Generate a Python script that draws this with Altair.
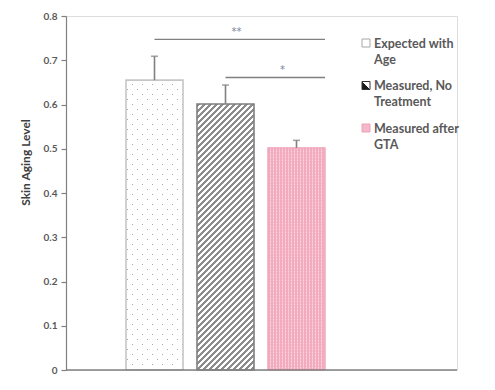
import altair as alt
import pandas as pd

# ---- data ----
categories = ["Expected with Age", "Measured, No Treatment", "Measured after GTA"]
values = [0.655, 0.601, 0.502]
errors = [0.054, 0.043, 0.017]
legend_labels = ["Expected with\nAge", "Measured, No\nTreatment", "Measured after\nGTA"]
sig_start = ["Expected with Age", "Measured, No Treatment"]
sig_end = ["Measured after GTA", "Measured after GTA"]
sig_y = [0.747, 0.661]
sig_text = ["**", "*"]
sig_text_y = [0.771, 0.685]
y_ticks = [0, 0.1, 0.2, 0.3, 0.4, 0.5, 0.6, 0.7, 0.8]

# ---- layout ----
W, H = 391, 354
YMAX = 0.8
BAR_W = 57
FONT = "Lato"
GREY = "#808080"
TEXT = "#595959"

df = pd.DataFrame({"cat": categories, "value": values, "err": errors})
df["upper"] = df["value"] + df["err"]
sig_df = pd.DataFrame({"start": sig_start, "end": sig_end, "y": sig_y,
                       "label": sig_text, "ty": sig_text_y})
leg_df = pd.DataFrame({"label": legend_labels, "cat": categories})


def stripe_stops(length, period, first_len, c1, c2):
    stops = []
    pos = 0.0
    while pos < length:
        for p, c in [(pos, c1), (pos + first_len, c1), (pos + first_len, c2), (pos + period, c2)]:
            o = min(max(p / length, 0.0), 1.0)
            stops.append(alt.GradientStop(offset=o, color=c))
        pos += period
    return stops


def diag_gradient(w, h, period, on, c_on, c_off):
    k = (w + h) / (w * w + h * h)
    return alt.LinearGradient(gradient="linear", x1=0, y1=0, x2=w * k, y2=h * k,
                              stops=stripe_stops(w + h, period, on, c_on, c_off))


def axis_gradient(length, period, on, c1, c2, vertical):
    if vertical:
        return alt.LinearGradient(gradient="linear", x1=0, y1=0, x2=0, y2=1,
                                  stops=stripe_stops(length, period, on, c1, c2))
    return alt.LinearGradient(gradient="linear", x1=0, y1=0, x2=1, y2=0,
                              stops=stripe_stops(length, period, on, c1, c2))


hpx = [v * H / YMAX for v in values]

# band scale positioned like the reference
step = 71.0
pad_inner = (step - BAR_W) / step
band_start = 60
band_end = band_start + step * (len(categories) - pad_inner)
xscale = alt.Scale(domain=categories, paddingInner=pad_inner, paddingOuter=0,
                   range=[band_start, band_end])
yscale = alt.Scale(domain=[0, YMAX], nice=False, zero=True)

xenc = alt.X("cat:N", scale=xscale, sort=categories, axis=None)
yenc = alt.Y("value:Q", scale=yscale,
             axis=alt.Axis(values=y_ticks, grid=False, tickSize=5, tickColor=GREY,
                           domainColor=GREY, domainWidth=1.2, tickWidth=1.2,
                           labelFont=FONT, labelFontWeight="bold", labelFontSize=10,
                           labelColor=TEXT, labelPadding=4,
                           labelExpr="datum.value == 0 ? '0' : format(datum.value, '.1f')",
                           title="Skin Aging Level", titleFont=FONT, titleFontSize=12,
                           titleFontWeight="bold", titleColor="#404040",
                           titleX=-34, titleY=146))

base = alt.Chart(df).encode(x=xenc, y=yenc)


def one(i):
    return base.transform_filter(alt.datum.cat == categories[i])


# bar 1: staggered light dots (diagonal lines masked by white rows)
b1_base = one(0).mark_bar(fill=diag_gradient(BAR_W, hpx[0], 10, 1.6, "#a8a8a8", "#ffffff"))
b1_top = one(0).mark_bar(
    fill=axis_gradient(hpx[0], 5, 3.8, "#ffffff", "rgba(255,255,255,0)", True),
    stroke="#c6c6c6", strokeWidth=1.6)
# bar 2: diagonal hatch
b2 = one(1).mark_bar(fill=diag_gradient(BAR_W, hpx[1], 6, 3, "#8c8c8c", "#ffffff"),
                     stroke="#7f7f7f", strokeWidth=1.6)
# bar 3: pink check-like texture
b3_base = one(2).mark_bar(fill=axis_gradient(BAR_W, 3, 1.5, "#f3abbf", "#fbd8e1", False))
b3_top = one(2).mark_bar(
    fill=axis_gradient(hpx[2], 3, 1.5, "rgba(243,171,191,0)", "rgba(243,171,191,0.5)", True),
    stroke="#eea3b8", strokeWidth=1.4)

err_rule = base.mark_rule(color=GREY, strokeWidth=1.6).encode(y2="upper:Q")
err_cap = base.mark_tick(color=GREY, size=7, thickness=1.6).encode(y="upper:Q")

# x baseline across the whole plot width
baseline = alt.Chart(pd.DataFrame({"v": [0]})).mark_rule(color=GREY, strokeWidth=1.5).encode(
    y=alt.Y("v:Q", scale=yscale), x=alt.value(0), x2=alt.value(W))

sig_base = alt.Chart(sig_df)
sig_lines = sig_base.mark_rule(color=GREY, strokeWidth=1.3).encode(
    x=alt.X("start:N", scale=xscale, sort=categories, bandPosition=0.5),
    x2=alt.X2("end", bandPosition=1),
    y=alt.Y("y:Q", scale=yscale),
)
STAR_FONT = "DejaVu Sans"
star1 = sig_base.transform_filter(alt.datum.label == "**").mark_text(
    font=STAR_FONT, fontSize=10, color="#7d86a0", dx=82, dy=3,
    baseline="middle").encode(
    x=alt.X("start:N", scale=xscale, sort=categories), y=alt.Y("ty:Q", scale=yscale),
    text="label:N")
star2 = sig_base.transform_filter(alt.datum.label == "*").mark_text(
    font=STAR_FONT, fontSize=10, color="#7d86a0", dx=57, dy=3,
    baseline="middle").encode(
    x=alt.X("start:N", scale=xscale, sort=categories), y=alt.Y("ty:Q", scale=yscale),
    text="label:N")

main = alt.layer(b1_base, b1_top, b2, b3_base, b3_top, err_rule, err_cap, baseline,
                 sig_lines, star1, star2)

# ---- legend ----
leg_y = alt.Y("label:N", sort=legend_labels,
              scale=alt.Scale(domain=legend_labels, range=[27, 112], padding=0),
              axis=None)
leg = alt.Chart(leg_df).encode(y=leg_y)


def sym(i, **kw):
    return leg.transform_filter(alt.datum.cat == categories[i]).mark_point(
        shape="square", size=64, filled=True, **kw).encode(x=alt.value(300))


sym2_fill = alt.LinearGradient(gradient="linear", x1=0, y1=1, x2=1, y2=0,
                               stops=[alt.GradientStop(offset=0, color="#1a1a1a"),
                                      alt.GradientStop(offset=0.5, color="#1a1a1a"),
                                      alt.GradientStop(offset=0.5, color="#ffffff"),
                                      alt.GradientStop(offset=1, color="#ffffff")])
s1 = sym(0, fill="#ffffff", stroke="#a6a6a6", strokeWidth=1, opacity=1)
s2 = sym(1, fill=sym2_fill, stroke="#333333", strokeWidth=1, opacity=1)
s3 = sym(2, fill="#f5b8ca", stroke="#eaa2b6", strokeWidth=1, opacity=1)
leg_text = leg.mark_text(font=FONT, fontSize=12.5, fontWeight="bold", color=TEXT,
                         align="left", baseline="alphabetic", dy=4.5,
                         lineBreak="\n", lineHeight=16).encode(
    x=alt.value(308), text="label:N")
legend = alt.layer(s1, s2, s3, leg_text)

chart = alt.layer(main, legend).resolve_scale(y="independent").properties(
    width=W, height=H,
    padding={"left": 58, "top": 8, "right": 20, "bottom": 10},
    autosize=alt.AutoSizeParams(type="none"),
).configure_view(stroke=None).configure(background="white")

chart.save("out.html", embed_options={"renderer": "svg", "actions": False})
